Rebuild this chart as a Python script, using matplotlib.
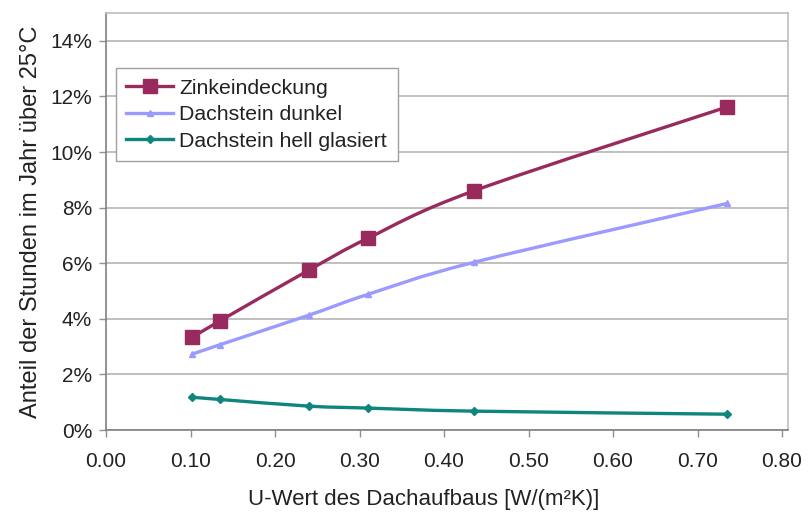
import numpy as np
import matplotlib.pyplot as plt
from matplotlib.path import Path
from matplotlib.patches import PathPatch
from matplotlib.ticker import FuncFormatter, MultipleLocator

plt.rcParams['font.family'] = ['Liberation Sans', 'DejaVu Sans']

u_wert = [0.102, 0.135, 0.240, 0.310, 0.435, 0.735]
zink = [3.33, 3.93, 5.75, 6.90, 8.60, 11.62]
dunkel = [2.73, 3.07, 4.13, 4.88, 6.03, 8.15]
hell = [1.18, 1.10, 0.86, 0.79, 0.68, 0.57]

names = ['Zinkeindeckung', 'Dachstein dunkel', 'Dachstein hell glasiert']
colors = ['#982a5e', '#9a9aff', '#0f857e']
markers = ['s', '^', 'D']
msizes = [9.5, 5, 4]


def smooth_path(x, y):
    # Excel-like smoothed line as cubic bezier segments
    pts = np.column_stack([x, y])
    verts = [pts[0]]
    codes = [Path.MOVETO]
    n = len(pts)
    for i in range(n - 1):
        p0 = pts[max(i - 1, 0)]
        p1 = pts[i]
        p2 = pts[i + 1]
        p3 = pts[min(i + 2, n - 1)]
        c1 = p1 + (p2 - p0) / 6.0
        c2 = p2 - (p3 - p1) / 6.0
        verts += [c1, c2, p2]
        codes += [Path.CURVE4] * 3
    return Path(verts, codes)


fig = plt.figure(figsize=(8.11, 5.2), dpi=100)
ax = fig.add_axes([0.1307, 0.173, 0.8409, 0.802])

for ys, name, c, m, ms in zip([zink, dunkel, hell], names, colors, markers, msizes):
    ax.add_patch(PathPatch(smooth_path(u_wert, ys), fill=False, edgecolor=c, lw=2.4, zorder=3))
    ax.plot(u_wert, ys, linestyle='none', marker=m, ms=ms, color=c, zorder=4)
    ax.plot([], [], color=c, lw=2.4, marker=m, ms=ms, label=name)

ax.set_xlim(0, 0.807)
ax.set_ylim(0, 15)
ax.xaxis.set_major_locator(MultipleLocator(0.1))
ax.set_yticks(np.arange(0, 15, 2))
ax.xaxis.set_major_formatter(FuncFormatter(lambda v, p: f'{v:.2f}'))
ax.yaxis.set_major_formatter(FuncFormatter(lambda v, p: f'{v:.0f}%'))
ax.grid(axis='y', color='#b4b4b4', lw=1.2)
ax.set_axisbelow(True)
ax.tick_params(axis='both', labelsize=15, colors='#222222', length=5, width=1)
ax.tick_params(axis='y', pad=5)
ax.tick_params(axis='x', pad=11)
ax.tick_params(axis='both', color='#909090')
for s in ['left', 'bottom']:
    ax.spines[s].set_color('#808080')
    ax.spines[s].set_linewidth(1.2)
for s in ['top', 'right']:
    ax.spines[s].set_color('#bdbdbd')
    ax.spines[s].set_linewidth(1.2)

ax.set_xlabel('U-Wert des Dachaufbaus [W/(m²K)]', fontsize=16, color='#222222')
ax.xaxis.set_label_coords(0.466, -0.142)
ax.set_ylabel('Anteil der Stunden im Jahr über 25°C', fontsize=17, color='#222222', labelpad=6)

leg = ax.legend(loc='upper left', bbox_to_anchor=(0.014, 0.868), fontsize=15.3,
                frameon=True, fancybox=False, edgecolor='#a0a0a0', framealpha=1,
                handlelength=2.2, labelspacing=0.35, borderpad=0.5, handletextpad=0.3,
                borderaxespad=0)
leg.get_frame().set_linewidth(1.0)
for t in leg.get_texts():
    t.set_color('#222222')

fig.savefig('out.png', dpi=100)
